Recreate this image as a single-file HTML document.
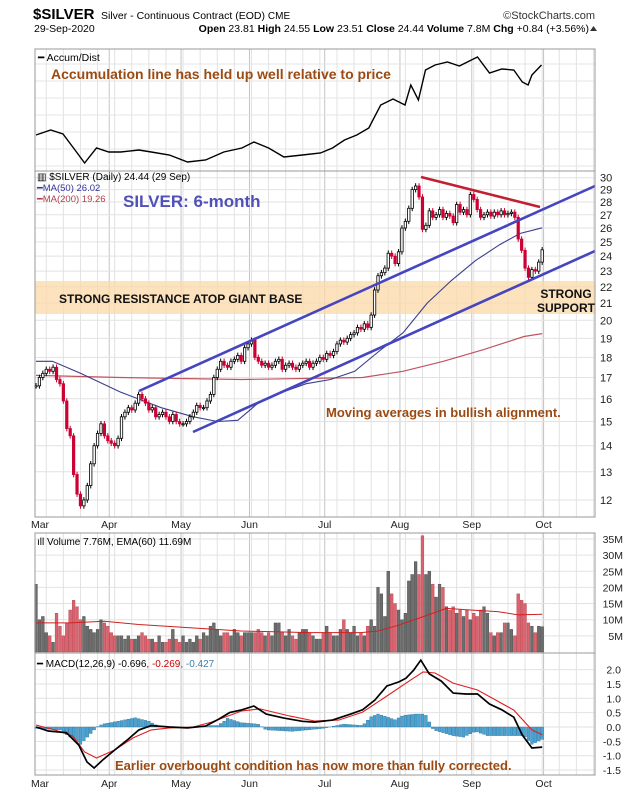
<!DOCTYPE html>
<html><head><meta charset="utf-8"><style>
html,body{margin:0;padding:0;background:#fff;}
svg{display:block;font-family:"Liberation Sans",sans-serif;}
</style></head><body>
<svg id="c" width="630" height="800" viewBox="0 0 630 800" xmlns="http://www.w3.org/2000/svg">
<rect x="0" y="0" width="630" height="800" fill="#fff"/>
<g id="grid"></g>
<rect x="35" y="281" width="560" height="33" fill="#fbd9a8" opacity="0.75"/>
<g id="marks"></g>
<g id="frames"></g>
<g id="labels"></g>
<text x="33" y="19" font-size="15" font-weight="bold" fill="#000">$SILVER</text>
<text x="101" y="19" font-size="10.5" fill="#000">Silver - Continuous Contract (EOD) <tspan font-size="10">CME</tspan></text>
<text x="595" y="19" font-size="11" fill="#333" text-anchor="end">©StockCharts.com</text>
<text x="34" y="32" font-size="10.5" fill="#000">29-Sep-2020</text>
<text x="589" y="32" font-size="10.5" fill="#000" text-anchor="end"><tspan font-weight="bold">Open</tspan> 23.81 <tspan font-weight="bold">High</tspan> 24.55 <tspan font-weight="bold">Low</tspan> 23.51 <tspan font-weight="bold">Close</tspan> 24.44 <tspan font-weight="bold">Volume</tspan> 7.8M <tspan font-weight="bold">Chg</tspan> +0.84 (+3.56%)</text>
<polygon points="590,31 597,31 593.5,26" fill="#333"/>
<g id="annot">
<text x="38" y="61" font-size="10.5" fill="#000">━ Accum/Dist</text>
<text x="51" y="79" font-size="14" font-weight="bold" fill="#9b4a12">Accumulation line has held up well relative to price</text>
<text x="37" y="180" font-size="10" fill="#000">▥ $SILVER (Daily) 24.44 (29 Sep)</text>
<text x="37" y="191" font-size="9.5" fill="#333399">━MA(50) 26.02</text>
<text x="37" y="202" font-size="9.5" fill="#b0404a">━MA(200) 19.26</text>
<text x="123" y="207" font-size="17" font-weight="bold" fill="#5050b8">SILVER: 6-month</text>
<text x="59" y="303" font-size="12" font-weight="bold" fill="#111">STRONG RESISTANCE ATOP GIANT BASE</text>
<text x="566" y="298" font-size="12" font-weight="bold" fill="#111" text-anchor="middle">STRONG</text>
<text x="566" y="312" font-size="12" font-weight="bold" fill="#111" text-anchor="middle">SUPPORT</text>
<text x="326" y="417" font-size="13" font-weight="bold" fill="#9b4a12">Moving averages in bullish alignment.</text>
<text x="37" y="545" font-size="10" fill="#000">ıll Volume 7.76M, EMA(60) 11.69M</text>
<text x="37" y="667" font-size="10" fill="#000">━ MACD(12,26,9) -0.696<tspan fill="#cc0000">, -0.269</tspan><tspan fill="#3a7fb0">, -0.427</tspan></text>
<text x="115" y="770" font-size="13" font-weight="bold" fill="#9b4a12">Earlier overbought condition has now more than fully corrected.</text>
</g>
</svg>
<script>
const closes = [16.6,17.0,17.2,17.4,17.3,17.5,16.9,16.7,15.9,14.7,14.4,12.9,12.2,11.8,12.0,12.5,13.3,14.0,14.5,14.9,14.4,14.2,
14.1,14.0,14.3,15.2,15.4,15.6,15.5,15.8,16.2,16.0,15.8,15.5,15.6,15.2,15.3,15.4,15.2,15.0,15.3,15.0,14.9,
14.9,15.0,15.2,15.4,15.7,15.6,15.6,15.9,16.2,17.0,17.4,17.8,17.6,17.5,17.8,17.9,18.1,17.8,18.5,18.7,
18.9,18.0,17.8,17.6,17.7,17.5,17.6,17.8,17.9,17.4,17.6,17.7,17.5,17.4,17.6,17.7,17.8,17.5,17.7,17.8,18.0,17.9,
18.2,18.1,18.3,18.7,18.9,18.8,19.0,19.2,19.3,19.6,19.5,19.8,19.6,20.3,21.8,22.7,22.9,23.2,24.2,24.0,23.5,24.3,
26.0,26.5,27.5,29.0,29.3,28.4,25.9,26.2,27.3,26.8,27.0,27.4,26.8,27.1,26.9,26.4,27.8,27.2,27.4,27.0,28.6,
28.2,27.4,26.8,27.0,27.2,26.9,27.2,27.0,27.3,27.0,27.1,27.2,26.8,25.2,24.4,23.2,22.6,23.1,23.0,23.6,24.44];
const volumes = [21,10,11,6,5,3,12,8,5,9,13,16,14,10,11,8,7,6,7,10,9,8,
6,5,5,5,4,5,4,4,5,6,5,4,4,3,5,3,3,4,7,4,3,
5,3,4,3,5,4,6,5,8,9,7,5,6,6,5,7,6,5,6,6,
6,6,7,6,5,6,5,9,9,6,5,7,5,4,6,7,7,6,5,4,4,6,
8,6,5,5,7,10,7,6,8,5,6,5,8,10,8,20,18,11,25,18,15,13,
10,12,22,24,28,24,36,24,25,21,17,21,20,14,13,14,12,13,11,13,10,
12,11,13,14,12,6,5,6,6,9,9,7,5,18,16,15,9,8,6,8,7.8];
const ma50Days = [0,4.8,13,24.8,36.6,46,53.1,59,64.9,72,79,86.1,93.2,100.2,107.3,114.4,121.5,128.5,135.6,141.5,148];
const ma50Vals = [17.8,17.8,17.2,16.3,15.6,15.2,15.0,15.05,15.8,16.3,16.7,16.9,17.3,18.3,19.3,21.0,22.4,23.7,24.8,25.6,26.02];
const ma200Days = [0,24.8,60.2,95.5,107.3,119.1,130.9,142.7,148];
const ma200Vals = [17.1,17.0,16.9,17.0,17.3,17.8,18.4,19.1,19.26];
const accDays = [0,4.3,7.9,11.4,14.2,17.7,21.3,24.8,30.1,33.7,39,44.3,49.6,54.9,60.2,63.7,68,72.5,77.9,83.2,86.7,90.2,93.8,97.3,100.8,104.4,107.9,109.6,111.8,113.9,116.7,120.3,123.8,127.3,129.1,132.6,136.2,139.7,142.2,143.9,145,147.8];
const accVals = [36,41,37,21,8,23,19,19,21,19,16,9,11,19,23,29,23,14,16,18,23,31,36,43,66,72,66,86,71,101,106,109,105,111,114,98,102,101,89,86,96,106];
const emaDays = [0,10,20,30,45,60,80,95,100,105,112,120,127,135,141,148];
const emaVals = [9,9,9.5,8.5,7.5,6.5,6,6,6.5,8,10.5,13.5,13,12.5,11.5,11.69];
const macdDays = [0,3.6,8.9,12.5,14.9,17,19.5,23,26.6,30.1,33.7,39,44.3,49.6,53.1,56.6,60.2,63.7,67.3,72.5,77.9,81.4,86.7,92,95.5,99.1,102.6,106.1,108.2,110.4,112.5,115,118.5,122,125.6,129.1,132.6,136.2,139.7,142.2,145,148];
const macdVals = [0,-0.14,-0.2,-0.63,-1.22,-1.43,-1.15,-0.8,-0.46,-0.1,0.05,0,-0.03,0.03,0.25,0.5,0.6,0.73,0.45,0.31,0.2,0.17,0.24,0.45,0.6,0.94,1.43,1.57,1.7,1.98,2.33,1.85,1.6,1.18,1.15,1.15,0.8,0.6,0.34,-0.28,-0.73,-0.7];
const sigDays = [0,5.4,10.7,14.2,17.7,23,28.4,33.7,39,46,51.3,60.2,65.5,74.3,81.4,88.5,95.5,102.6,109.6,113.2,116.7,122,129.1,134.4,139.7,145,148];
const sigVals = [0.07,-0.1,-0.31,-0.87,-1.08,-0.8,-0.38,-0.1,-0.03,0,0.17,0.56,0.63,0.38,0.21,0.24,0.52,1.08,1.64,1.92,1.88,1.53,1.29,0.94,0.59,-0.1,-0.27];
const histDays = [0,7,13,17.8,19.5,24,29,33,35.4,36.6,48.4,49.6,53.1,55,56,60,64.9,67.3,75,83.8,90,95.5,97.9,100,102.6,105,107.3,111,113.8,116.2,122,125,128.5,132,138,142.7,145,148];
const histVals = [-0.05,-0.1,-0.6,0,0.1,0.2,0.32,0.2,0.05,0,0,0.05,0.05,0.2,0.3,0.15,0.1,-0.1,-0.15,-0.05,0.1,0.05,0.35,0.45,0.35,0.25,0.4,0.45,0.45,-0.1,-0.3,-0.35,-0.15,-0.3,-0.3,-0.3,-0.6,-0.43];
const priceTicks = [12,13,14,15,16,17,18,19,20,21,22,23,24,25,26,27,28,29,30];
const volTicks = [5,10,15,20,25,30,35];
const macdTicks = [2.0,1.5,1.0,0.5,0.0,-0.5,-1.0,-1.5];
const months = ["Mar","Apr","May","Jun","Jul","Aug","Sep","Oct"];
const monthDays = [0,22,43,63,85,107,128,149];

const L=35,R=595;
const xS = d => 36 + d*3.42;
const yP = p => 177.7 + Math.log(30/p)*351.7;
const yV = v => 652 - v*3.23;
const yM = m => 727 - m*28.7;
const yA = a => 171 - a;
const NS="http://www.w3.org/2000/svg";
function mk(parent,tag,attrs){const e=document.createElementNS(NS,tag);for(const k in attrs)e.setAttribute(k,attrs[k]);document.getElementById(parent).appendChild(e);return e;}
function interp(ds,vs,d){if(d<=ds[0])return vs[0];for(let i=1;i<ds.length;i++){if(d<=ds[i]){const t=(d-ds[i-1])/(ds[i]-ds[i-1]);return vs[i-1]+t*(vs[i]-vs[i-1]);}}return vs[vs.length-1];}

const panels=[[49,171],[171,517],[533,653],[653,775]];
for(const [t,b] of panels){
  for(let d=3;d<175;d+=5){const x=xS(d);if(x>R)break;
    const g=mk('grid','line',{x1:x,x2:x,y1:t,y2:b,stroke:'#e2e2e2','stroke-width':1});
    
    }
  monthDays.forEach(md=>{const x=xS(md)-2;if(x<=L+2)return;
    const g=mk('grid','line',{x1:x,x2:x,y1:t,y2:b,stroke:'#c4c4c4','stroke-width':1});
    
    });
}
for(let y=64;y<171;y+=17){const g=mk('grid','line',{x1:L,x2:R,y1:y,y2:y,stroke:'#e4e4e4'});
  
  }
priceTicks.forEach(p=>{const y=yP(p);
  const g=mk('grid','line',{x1:L,x2:R,y1:y,y2:y,stroke:'#e2e2e2'});
  
  
  const t=mk('labels','text',{x:600,y:y+4,'font-size':11,fill:'#222'});t.textContent=p;
  
  });
volTicks.forEach(v=>{const y=yV(v);
  const g=mk('grid','line',{x1:L,x2:R,y1:y,y2:y,stroke:'#e2e2e2'});
  
  
  const t=mk('labels','text',{x:623,y:y+4,'font-size':10.5,fill:'#222','text-anchor':'end'});t.textContent=v+'M';
  
  });
macdTicks.forEach(v=>{const y=yM(v);
  const g=mk('grid','line',{x1:L,x2:R,y1:y,y2:y,stroke:'#e2e2e2'});
  
  
  const t=mk('labels','text',{x:621,y:y+4,'font-size':10.5,fill:'#222','text-anchor':'end'});t.textContent=v.toFixed(1);
  
  });
months.forEach((m,i)=>{const x=xS(monthDays[i])-2;
  [524,783].forEach(yy=>{const t=mk('labels','text',{x:Math.max(x,40),y:yy+4,'font-size':10.5,fill:'#222','text-anchor':'middle'});t.textContent=m;
  
  });});
panels.forEach(([t,b])=>{const f=mk('frames','rect',{x:L,y:t,width:R-L,height:b-t,fill:'none',stroke:'#999','stroke-width':1});
  
  });

function line(ds,vs,ys,attrs,name){let p='';ds.forEach((d,i)=>{p+=(i?'L':'M')+xS(d).toFixed(1)+','+ys(vs[i]).toFixed(1);});
  const e=mk('marks','path',Object.assign({d:p,fill:'none'},attrs));
  
  }

line(accDays,accVals,yA,{stroke:'#000','stroke-width':1.4},'accum-dist-line');
line(ma200Days,ma200Vals,yP,{stroke:'#c05560','stroke-width':1.2},'ma200-line');
line(ma50Days,ma50Vals,yP,{stroke:'#3a3f8a','stroke-width':1.1},'ma50-line');
closes.forEach((c,i)=>{const o=i?closes[i-1]:c;const x=xS(i);
  const col=c>=o?'#000':'#cc0033';
  const hi=Math.max(o,c)*1.008,lo=Math.min(o,c)*0.992;
  const w=mk('marks','line',{x1:x,x2:x,y1:yP(hi),y2:yP(lo),stroke:col,'stroke-width':1});
  
  
  const y1=yP(Math.max(o,c)),y2=yP(Math.min(o,c));
  const b=mk('marks','rect',{x:x-1.2,y:y1,width:2.4,height:Math.max(1,y2-y1),fill:c>=o?'#fff':col,stroke:col,'stroke-width':0.8});
  
  });
volumes.forEach((v,i)=>{const up=i===0||closes[i]>=closes[i-1];
  const r=mk('marks','rect',{x:xS(i)-1.4,y:yV(v),width:2.8,height:652-yV(v),fill:up?'#6d6d6d':'#d9646f',stroke:up?'#444':'#b03a46','stroke-width':0.4});
  
  });
line(emaDays,emaVals,yV,{stroke:'#d02020','stroke-width':1},'volume-ema-line');
for(let d=0;d<=148;d++){const h=interp(histDays,histVals,d);
  const y0=yM(0),y1=yM(h);
  const r=mk('marks','rect',{x:xS(d)-1.4,y:Math.min(y0,y1),width:2.8,height:Math.abs(y1-y0),fill:'#4aa3d3',stroke:'#2a6f99','stroke-width':0.4});
  
  }
line(sigDays,sigVals,yM,{stroke:'#e02020','stroke-width':1.1},'macd-signal-line');
line(macdDays,macdVals,yM,{stroke:'#000','stroke-width':1.7},'macd-line');

function tl(x1,y1,x2,y2,col,name){const e=mk('marks','line',{x1:x1,y1:y1,x2:x2,y2:y2,stroke:col,'stroke-width':2.6});
  
  }
tl(139,391,595,186,'#4545c0','upper-channel-line');
tl(193,432,595,251,'#4545c0','lower-channel-line');
tl(421,177,540,207,'#c02030','falling-resistance-line');
</script>
</body></html>
